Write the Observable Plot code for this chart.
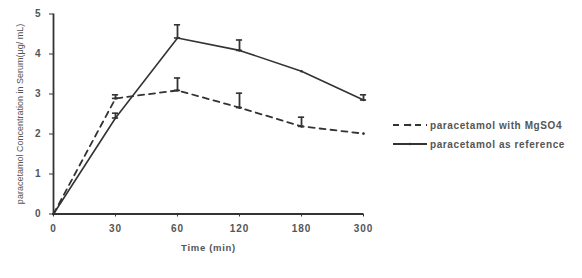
<!DOCTYPE html>
<html>
<head>
<meta charset="utf-8">
<script src="https://cdn.jsdelivr.net/npm/d3@7"></script>
<script src="https://cdn.jsdelivr.net/npm/@observablehq/plot@0.6"></script>
<style>
  html, body { margin: 0; padding: 0; background: #fff; }
  #chart { width: 582px; height: 278px; }
</style>
</head>
<body>
<div id="chart"></div>
<script>
// Tick labels (categorical time points, equally spaced)
const times = ["0", "30", "60", "120", "180", "300"];
// Series: paracetamol with MgSO4 (dashed)
const mgso4 = [0, 2.89, 3.09, 2.66, 2.19, 2.01];
const mgso4Err = [0, 0.09, 0.31, 0.36, 0.23, 0];
// Series: paracetamol as reference (solid)
const reference = [0, 2.40, 4.40, 4.09, 3.57, 2.85];
const referenceErr = [0, 0.12, 0.33, 0.26, 0, 0.13];

const seriesNames = ["paracetamol with MgSO4", "paracetamol as reference"];
const yTicks = [0, 1, 2, 3, 4, 5];

const rows = [];
times.forEach((t, i) => {
  rows.push({i, series: seriesNames[0], value: mgso4[i], err: mgso4Err[i]});
  rows.push({i, series: seriesNames[1], value: reference[i], err: referenceErr[i]});
});
const errRows = rows.filter(d => d.err > 0);
const capHalf = 0.05;

const ink = "#333";
const textCol = "#555";
const font = "Liberation Sans, Arial, sans-serif";

const chart = Plot.plot({
  width: 582,
  height: 278,
  marginLeft: 53,
  marginRight: 219,
  marginTop: 13.5,
  marginBottom: 64.5,
  style: {fontFamily: font, background: "#fff"},
  x: {domain: [0, times.length - 1]},
  y: {domain: [0, 5]},
  marks: [
    // axis lines
    Plot.ruleY([0], {stroke: ink, strokeWidth: 1.8}),
    Plot.ruleX([0], {stroke: ink, strokeWidth: 1.8}),
    Plot.axisX({
      ticks: d3.range(times.length),
      tickFormat: i => times[i],
      tickSize: 3,
      tickPadding: 8,
      label: null,
      fontSize: 10,
      fontWeight: "bold",
      fill: textCol,
      stroke: ink
    }),
    Plot.axisY({
      ticks: yTicks,
      tickFormat: d => String(d),
      tickSize: 4,
      tickPadding: 8,
      label: null,
      fontSize: 10,
      fontWeight: "bold",
      fill: textCol,
      stroke: ink
    }),
    Plot.text(["paracetamol Concentration in Serum(μg/ mL)"], {
      frameAnchor: "left", rotate: -90, dx: -33, textAnchor: "middle", fontSize: 9, fill: textCol
    }),
    Plot.text(["Time (min)"], {
      frameAnchor: "bottom", dy: 37, fontSize: 9.5, fontWeight: "bold", fill: textCol
    }),
    // lines
    Plot.line(rows.filter(d => d.series === seriesNames[0]), {
      x: "i", y: "value", stroke: ink, strokeWidth: 1.8, strokeDasharray: "6,5"
    }),
    Plot.line(rows.filter(d => d.series === seriesNames[1]), {
      x: "i", y: "value", stroke: ink, strokeWidth: 1.6
    }),
    // error bars (upward, capped at both ends)
    Plot.ruleX(errRows, {x: "i", y1: "value", y2: d => d.value + d.err, stroke: ink, strokeWidth: 1.8}),
    Plot.ruleY(errRows, {x1: d => d.i - capHalf, x2: d => d.i + capHalf, y: d => d.value + d.err, stroke: ink, strokeWidth: 1.6}),
    Plot.ruleY(errRows, {x1: d => d.i - capHalf, x2: d => d.i + capHalf, y: "value", stroke: ink, strokeWidth: 1.6}),
    Plot.dot(rows, {x: "i", y: "value", r: 1.3, fill: ink})
  ]
});

document.getElementById("chart").appendChild(chart);

const svg = d3.select(chart);
// wider letter spacing, as in the reference
svg.selectAll('[aria-label="x-axis tick label"] text').style("letter-spacing", "0.9px");
svg.selectAll('[aria-label="y-axis tick label"] text').style("letter-spacing", "0.9px");
svg.selectAll('[aria-label="text"] text')
  .filter(function () { return this.textContent === "Time (min)"; })
  .style("letter-spacing", "0.7px");

// Legend drawn inside the same SVG, to the right of the plot
const legend = svg.append("g").attr("font-family", font).attr("text-anchor", "start");
const legendItems = [
  {name: seriesNames[0], dash: "6,5", y: 125},
  {name: seriesNames[1], dash: null, y: 144}
];
legendItems.forEach(item => {
  legend.append("line")
    .attr("x1", 393).attr("x2", 427)
    .attr("y1", item.y).attr("y2", item.y)
    .attr("stroke", ink).attr("stroke-width", 1.8)
    .attr("stroke-dasharray", item.dash);
  legend.append("circle").attr("cx", 410).attr("cy", item.y).attr("r", 1.3).attr("fill", ink);
  legend.append("text")
    .attr("x", 430).attr("y", item.y).attr("dy", "0.35em")
    .attr("text-anchor", "start")
    .attr("font-size", 10).attr("font-weight", "bold").attr("fill", textCol)
    .style("letter-spacing", "0.6px")
    .text(item.name);
});
</script>
</body>
</html>
